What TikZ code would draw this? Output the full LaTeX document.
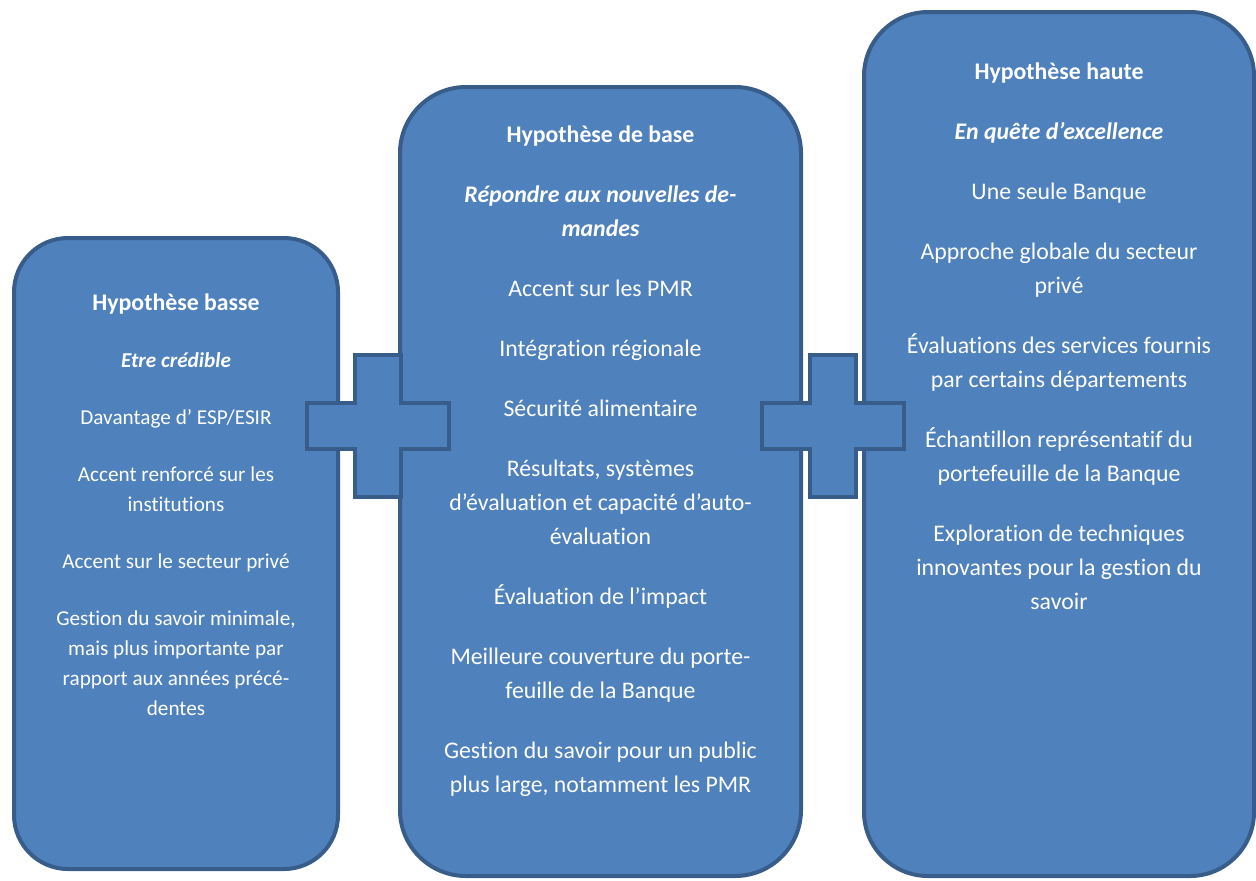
\documentclass[tikz,border=0pt]{standalone}
\usepackage{fontspec}
\setmainfont{Carlito}[Ligatures=NoCommon]
\usepackage{tikz}
\usetikzlibrary{positioning}
\definecolor{boxfill}{HTML}{4F81BD}
\definecolor{boxline}{HTML}{385D8A}

\begin{document}
\begin{tikzpicture}[
    x=0.5pt, y=-0.5pt,
    hyp/.style={draw=boxline, fill=boxfill, line width=2pt, rectangle, inner sep=0pt},
    txt/.style={text=white, align=center, anchor=base, inner sep=0pt, font=\fontsize{11.9}{17}\selectfont},
    smalltxt/.style={txt, font=\fontsize{10.6}{15}\selectfont},
    plussign/.pic={
        \draw[draw=boxline, fill=boxfill, line width=2pt]
            (-23,-71) -- (23,-71) -- (23,-23) -- (71,-23) -- (71,23) -- (23,23)
            -- (23,71) -- (-23,71) -- (-23,23) -- (-71,23) -- (-71,-23) -- (-23,-23) -- cycle;
    },
]
\useasboundingbox (0,0) rectangle (1256,880);

\node[hyp, rounded corners=27pt, minimum width=162pt, minimum height=315.5pt] (low) at (176,553.5) {};
\node[hyp, rounded corners=33pt, minimum width=200.5pt, minimum height=394.5pt] (base) at (600.5,481.5) {};
\node[hyp, rounded corners=32pt, minimum width=195pt, minimum height=432pt] (high) at (1059,444) {};

\pic at (378,426) {plussign};
\pic at (832.5,426) {plussign};

\node[smalltxt] (lowtxt) at (176,715) {%
    {\fontsize{11.9}{15}\selectfont\textbf{Hypothèse basse}}\\[13.5pt]
    \textbf{\textit{Etre crédible}}\\[13.5pt]
    Davantage d’ ESP/ESIR\\[13.5pt]
    Accent renforcé sur les\\ institutions\\[13.5pt]
    Accent sur le secteur privé\\[13.5pt]
    Gestion du savoir minimale,\\ mais plus importante par\\ rapport aux années précé-\\ dentes};

\node[txt] (basetxt) at (600.5,792) {%
    \textbf{Hypothèse de base}\\[13pt]
    \textbf{\textit{Répondre aux nouvelles de-}}\\ \textbf{\textit{mandes}}\\[13pt]
    Accent sur les PMR\\[13pt]
    Intégration régionale\\[13pt]
    Sécurité alimentaire\\[13pt]
    Résultats, systèmes\\ d’évaluation et capacité d’auto-\\ évaluation\\[13pt]
    Évaluation de l’impact\\[13pt]
    Meilleure couverture du porte-\\ feuille de la Banque\\[13pt]
    Gestion du savoir pour un public\\ plus large, notamment les PMR};

\node[txt] (hightxt) at (1059,609) {%
    \textbf{Hypothèse haute}\\[13pt]
    \textbf{\textit{En quête d’excellence}}\\[13pt]
    Une seule Banque\\[13pt]
    Approche globale du secteur\\ privé\\[13pt]
    Évaluations des services fournis\\ par certains départements\\[13pt]
    Échantillon représentatif du\\ portefeuille de la Banque\\[13pt]
    Exploration de techniques\\ innovantes pour la gestion du\\ savoir};
\end{tikzpicture}
\end{document}
